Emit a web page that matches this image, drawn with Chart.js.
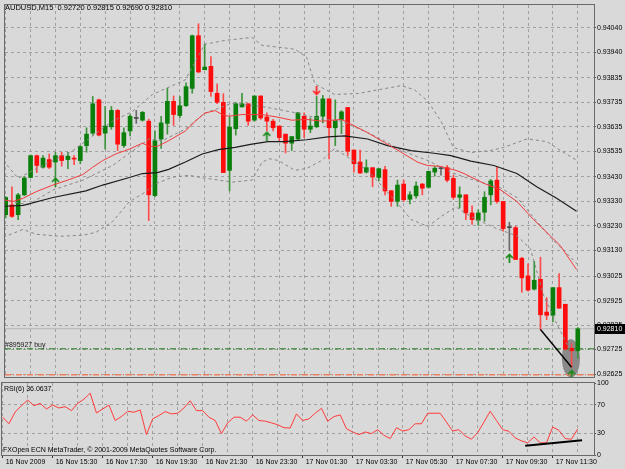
<!DOCTYPE html>
<html>
<head>
<meta charset="utf-8">
<title>AUDUSD,M15</title>
<script src="https://cdn.jsdelivr.net/npm/chart.js@4.4.1/dist/chart.umd.min.js"></script>
<style>
  body { margin: 0; background-color: #d9d9d9; }
  #wrap { position: relative; width: 625px; height: 469px; overflow: hidden; }
  #main { position: absolute; left: 0; top: 0; }
  #rsi { position: absolute; left: 0; top: 380px; }
</style>
</head>
<body>
<div id="wrap">
  <canvas id="main" width="625" height="382"></canvas>
  <canvas id="rsi" width="625" height="89"></canvas>
</div>
<script>
// M15 bars, bar 0 = 16 Nov 2009 13:30
const opens = [0.93276,0.93316,0.93276,0.93357,0.93428,0.93517,0.93470,0.93501,0.93491,0.93517,
  0.93501,0.93505,0.93497,0.93558,0.93609,0.93745,0.93609,0.93635,0.93702,0.93558,
  0.93618,0.93669,0.93662,0.93658,0.93354,0.93585,0.93649,0.93739,0.93681,0.93721,
  0.93792,0.94007,0.93868,0.93882,0.93772,0.93735,0.93457,0.93627,0.93716,0.93729,
  0.93662,0.93761,0.93675,0.93658,0.93638,0.93605,0.93568,0.93585,0.93678,0.93625,
  0.93635,0.93678,0.93749,0.93631,0.93665,0.93714,0.93540,0.93491,0.93450,0.93468,
  0.93428,0.93460,0.93374,0.93330,0.93401,0.93339,0.93353,0.93401,0.93388,0.93450,
  0.93464,0.93468,0.93424,0.93347,0.93357,0.93283,0.93253,0.93286,0.93357,0.93417,
  0.93330,0.93223,0.93223,0.93098,0.93026,0.92972,0.93012,0.92878,0.92865,0.92978,
  0.92910,0.92730,0.92720];
const highs = [0.93350,0.93390,0.93363,0.93430,0.93520,0.93520,0.93517,0.93524,0.93531,0.93531,
  0.93531,0.93517,0.93558,0.93631,0.93759,0.93748,0.93718,0.93718,0.93706,0.93631,
  0.93685,0.93702,0.93698,0.93666,0.93618,0.93678,0.93792,0.93761,0.93759,0.93815,
  0.94010,0.94056,0.93973,0.93922,0.93810,0.93770,0.93678,0.93735,0.93772,0.93729,
  0.93761,0.93761,0.93692,0.93665,0.93638,0.93605,0.93595,0.93694,0.93692,0.93671,
  0.93759,0.93763,0.93749,0.93745,0.93701,0.93714,0.93540,0.93540,0.93500,0.93468,
  0.93464,0.93473,0.93374,0.93417,0.93417,0.93370,0.93410,0.93404,0.93454,0.93473,
  0.93468,0.93477,0.93437,0.93390,0.93357,0.93312,0.93296,0.93370,0.93420,0.93470,
  0.93330,0.93245,0.93229,0.93102,0.93075,0.93085,0.93102,0.92937,0.92978,0.93035,
  0.92910,0.92750,0.92815];
const lows = [0.93263,0.93265,0.93256,0.93354,0.93426,0.93448,0.93466,0.93464,0.93417,0.93474,
  0.93464,0.93480,0.93484,0.93531,0.93601,0.93598,0.93544,0.93625,0.93538,0.93551,
  0.93598,0.93649,0.93658,0.93252,0.93350,0.93547,0.93605,0.93641,0.93671,0.93718,
  0.93772,0.93855,0.93868,0.93759,0.93729,0.93448,0.93373,0.93601,0.93716,0.93641,
  0.93658,0.93665,0.93618,0.93618,0.93578,0.93528,0.93538,0.93582,0.93591,0.93611,
  0.93631,0.93651,0.93504,0.93558,0.93607,0.93517,0.93450,0.93446,0.93446,0.93390,
  0.93414,0.93357,0.93310,0.93310,0.93330,0.93320,0.93343,0.93357,0.93384,0.93433,
  0.93437,0.93410,0.93339,0.93303,0.93256,0.93236,0.93232,0.93249,0.93316,0.93323,
  0.93209,0.93129,0.93093,0.92959,0.92964,0.92968,0.92807,0.92847,0.92838,0.92894,
  0.92723,0.92653,0.92690];
const closes = [0.93346,0.93269,0.93357,0.93426,0.93517,0.93477,0.93507,0.93470,0.93517,0.93497,
  0.93515,0.93503,0.93554,0.93605,0.93729,0.93601,0.93638,0.93702,0.93564,0.93611,
  0.93678,0.93669,0.93694,0.93357,0.93578,0.93651,0.93739,0.93685,0.93721,0.93799,
  0.94007,0.93859,0.93879,0.93779,0.93735,0.93448,0.93634,0.93729,0.93729,0.93658,
  0.93761,0.93671,0.93658,0.93631,0.93591,0.93568,0.93595,0.93692,0.93625,0.93638,
  0.93678,0.93749,0.93631,0.93661,0.93696,0.93535,0.93484,0.93446,0.93468,0.93430,
  0.93464,0.93373,0.93330,0.93397,0.93337,0.93357,0.93393,0.93384,0.93453,0.93466,
  0.93464,0.93417,0.93347,0.93357,0.93283,0.93256,0.93283,0.93347,0.93414,0.93330,
  0.93219,0.93223,0.93093,0.93018,0.92968,0.93008,0.92867,0.92865,0.92978,0.92894,
  0.92727,0.92720,0.92810];

// indicator lines as [bar, price]
const redMa = [[-0.4,0.93337],[1.2,0.93330],[2.8,0.93343],[4.9,0.93370],[7.6,0.93397],[10.3,0.93420],
  [12.4,0.93440],[14,0.93470],[15.6,0.93497],[17.7,0.93524],[19.9,0.93544],[22,0.93568],[23.1,0.93555],
  [24.4,0.93555],[26.2,0.93578],[28.9,0.93618],[30.5,0.93658],[32,0.93691],[33.7,0.93701],[34.8,0.93685],
  [35.8,0.93678],[38,0.93685],[41.2,0.93685],[43.8,0.93674],[46,0.93662],[48.4,0.93665],[50.8,0.93658],
  [54,0.93665],[55.6,0.93645],[58.2,0.93611],[60.9,0.93571],[63.6,0.93531],[66.2,0.93491],[67.8,0.93477],
  [70,0.93473],[72.4,0.93457],[73.7,0.93444],[76.9,0.93404],[79.6,0.93377],[82.2,0.93330],[84.9,0.93256],
  [87.6,0.93189],[89.2,0.93149],[91.8,0.93052]];
const blackMa = [[-0.4,0.93310],[2.8,0.93314],[7.6,0.93346],[12.9,0.93373],[15.6,0.93397],[19.9,0.93428],
  [22,0.93444],[24.4,0.93448],[26.2,0.93461],[28.9,0.93491],[31.6,0.93524],[34.2,0.93542],[36.9,0.93551],
  [39.6,0.93564],[42.2,0.93574],[44.9,0.93574],[48.4,0.93582],[51.8,0.93594],[54.5,0.93598],[58.2,0.93585],
  [61.4,0.93558],[65.2,0.93538],[68.9,0.93527],[71.6,0.93517],[74.8,0.93495],[78.5,0.93477],[82.2,0.93444],
  [85.4,0.93390],[88.6,0.93343],[91.8,0.93290]];
const upperBand = [[-0.4,0.93497],[2,0.93425],[4.4,0.93457],[7.6,0.93497],[10.8,0.93538],[14,0.93598],
  [17.2,0.93658],[20.4,0.93698],[23.6,0.93767],[28.9,0.93827],[32,0.93972],[35.3,0.93988],[39.6,0.94000],
  [41.2,0.93968],[43.9,0.93960],[46.5,0.93952],[48.4,0.93919],[49.7,0.93811],[52.9,0.93767],[56.7,0.93771],
  [60.9,0.93791],[63.6,0.93803],[65.7,0.93787],[67.9,0.93739],[70,0.93658],[72,0.93550],[74.8,0.93530],
  [78,0.93538],[80,0.93550],[83.9,0.93586],[87.1,0.93574],[89.2,0.93538],[91.9,0.93497]];
const middleBand = [[-0.4,0.93337],[3.6,0.93316],[7.6,0.93377],[12.4,0.93417],[17.2,0.93477],[23.1,0.93586],
  [25.2,0.93578],[28.9,0.93626],[32,0.93690],[36.4,0.93731],[41.2,0.93718],[47.1,0.93690],[50.8,0.93666],
  [54,0.93658],[58.3,0.93610],[60.9,0.93578],[63.6,0.93538],[67.9,0.93497],[71.6,0.93449],[74.3,0.93425],
  [79.6,0.93385],[82.3,0.93345],[84.9,0.93264],[87.6,0.93184],[91.9,0.93075]];
const lowerBand = [[-0.4,0.93184],[2.8,0.93216],[4.9,0.93196],[8.7,0.93188],[12.4,0.93192],[14.5,0.93204],
  [17.2,0.93248],[19.9,0.93329],[22.5,0.93369],[23.6,0.93397],[26.8,0.93429],[29.5,0.93437],[32,0.93425],
  [34.3,0.93417],[36.4,0.93409],[39.6,0.93417],[41.2,0.93489],[42.3,0.93505],[43.9,0.93497],[46.5,0.93457],
  [48.4,0.93465],[50.8,0.93497],[52.9,0.93546],[58.2,0.93457],[62.5,0.93337],[65.2,0.93256],[67.9,0.93228],
  [70,0.93268],[72.4,0.93308],[74.8,0.93268],[78.5,0.93224],[82.3,0.93188],[84.4,0.93136],[86.5,0.92947],
  [88.7,0.92826],[90.8,0.92721],[91.9,0.92673]];

const rsiValues = [52.5,43.4,59.8,68.5,76.3,68.5,71.7,63.9,69.4,65.3,
  67.1,61.6,71.7,77.6,85.8,58.4,63.9,69.4,47.9,53.4,
  60.7,59.4,62.6,28.3,50.2,54.8,60.3,57.1,58.0,65.3,
  75.3,61.6,61.6,52.5,47.9,29.7,44.7,52.5,52.5,47.0,
  55.7,47.9,47.0,44.7,42.0,37.9,37.4,57.1,47.9,50.2,
  58.0,64.8,47.0,53.4,55.7,36.5,32.0,28.3,32.0,29.7,
  35.2,27.4,22.8,37.9,33.3,35.2,43.4,43.4,58.0,58.0,
  58.0,45.7,33.3,35.2,26.5,21.9,31.1,45.7,60.7,47.9,
  35.2,32.9,23.7,19.6,16.9,25.1,16.9,16.9,38.8,34.2,
  22.8,21.9,36.06];

// objects on the chart
const upArrows = [[8,0.93410],[42,0.93598],[81,0.93099],[91,0.92624]];
const downArrows = [[50,0.93782]];
const trendPrice = [[86,0.92807],[91,0.92653]];
const trendRsi = [[83.6,13],[92.7,20.5]];
const ellipseCenter = [90.9,0.92689];
const ellipseRadius = [1.45,0.00078];
const bidPrice = 0.92810;
const orderPrice = 0.92728;
const stopPrice = 0.92622;

const priceTicks = [0.94040,0.93940,0.93835,0.93735,0.93635,0.93535,0.93430,0.93330,0.93230,
  0.93130,0.93025,0.92925,0.92825,0.92725,0.92625];
const rsiTicks = [100,70,30,0];
const timeTickBars = [0,8,16,24,32,40,48,56,64,72,80,88];
const timeLabels = ['16 Nov 2009','16 Nov 15:30','16 Nov 17:30','16 Nov 19:30','16 Nov 21:30',
  '16 Nov 23:30','17 Nov 01:30','17 Nov 03:30','17 Nov 05:30','17 Nov 07:30','17 Nov 09:30','17 Nov 11:30'];

const X_MIN = -0.112, X_MAX = 94.608;
const FONT = '"Liberation Sans", Arial, sans-serif';
const gridColor = '#a0a0a0';
const frameColor = '#6a6a6a';

Chart.defaults.font.family = FONT;
Chart.defaults.font.size = 7;
Chart.defaults.color = '#000';

function toXY(pairs) {
  return pairs.map(p => ({x: p[0], y: p[1]}));
}

function candleColor(i, up, down, flat) {
  if (closes[i] > opens[i]) return up;
  if (closes[i] < opens[i]) return down;
  return flat;
}

function arrowImage(color, up) {
  const c = document.createElement('canvas');
  c.width = 9; c.height = 10;
  const g = c.getContext('2d');
  g.strokeStyle = color;
  g.lineWidth = 1.7;
  g.beginPath();
  if (up) {
    g.moveTo(4.5, 1.5); g.lineTo(4.5, 10);
    g.moveTo(1, 5); g.lineTo(4.5, 1.5); g.lineTo(8, 5);
  } else {
    g.moveTo(4.5, 0); g.lineTo(4.5, 8.5);
    g.moveTo(1, 5); g.lineTo(4.5, 8.5); g.lineTo(8, 5);
  }
  g.stroke();
  return c;
}

const gridBars = [];
for (let k = 0; k <= 92; k += 4) gridBars.push(k);

function flatLine(price) {
  return [{x: X_MIN, y: price}, {x: X_MAX, y: price}];
}

function lineSet(data, color, width, dash, order) {
  return {type: 'line', data: data, borderColor: color, borderWidth: width, borderDash: dash || [],
    pointRadius: 0, fill: false, tension: 0, order: order};
}

// frame, texts and the ellipse
const mainDecor = {
  id: 'mainDecor',
  beforeDatasetsDraw(chart) {
    const {ctx, scales: {x, y}} = chart;
    const cx = x.getPixelForValue(ellipseCenter[0]);
    const cy = y.getPixelForValue(ellipseCenter[1]);
    const rx = x.getPixelForValue(ellipseCenter[0] + ellipseRadius[0]) - cx;
    const ry = cy - y.getPixelForValue(ellipseCenter[1] + ellipseRadius[1]);
    ctx.save();
    ctx.fillStyle = '#8a8a8a';
    ctx.beginPath();
    ctx.ellipse(cx, cy, rx, ry, 0, 0, Math.PI * 2);
    ctx.fill();
    ctx.restore();
  },
  afterDraw(chart) {
    const {ctx, chartArea: a, scales: {y}} = chart;
    ctx.save();
    ctx.strokeStyle = frameColor;
    ctx.lineWidth = 1;
    ctx.strokeRect(a.left - 0.5, a.top - 0.5, a.right - a.left + 1, a.bottom - a.top + 1);
    ctx.fillStyle = '#000';
    ctx.textBaseline = 'middle';
    ctx.font = '7.5px ' + FONT;
    ctx.fillText('AUDUSD,M15  0.92720 0.92815 0.92690 0.92810', 5, 8);
    ctx.font = '7px ' + FONT;
    ctx.fillStyle = '#202020';
    ctx.fillText('#895927 buy', 5, y.getPixelForValue(orderPrice) - 4);
    // bid price box
    const by = Math.round(y.getPixelForValue(bidPrice));
    ctx.fillStyle = '#000';
    ctx.fillRect(a.right + 1, by - 5, 625 - a.right - 1, 10);
    ctx.fillStyle = '#fff';
    ctx.fillText(bidPrice.toFixed(5), a.right + 3, by);
    ctx.restore();
  }
};

const rsiDecor = {
  id: 'rsiDecor',
  afterDraw(chart) {
    const {ctx, chartArea: a} = chart;
    ctx.save();
    ctx.strokeStyle = frameColor;
    ctx.lineWidth = 1;
    ctx.strokeRect(a.left - 0.5, a.top - 0.5, a.right - a.left + 1, a.bottom - a.top + 1);
    ctx.fillStyle = '#000';
    ctx.textBaseline = 'middle';
    ctx.font = '7px ' + FONT;
    ctx.fillText('RSI(6) 36.0637', 4, a.top + 6);
    ctx.fillText('FXOpen ECN MetaTrader, \u00a9 2001-2009 MetaQuotes Software Corp.', 3, a.bottom - 5);
    ctx.restore();
  }
};

const bodyData = opens.map((o, i) => ({x: i, y: [o, closes[i]]}));
const wickData = lows.map((l, i) => ({x: i, y: [l, highs[i]]}));

new Chart(document.getElementById('main'), {
  type: 'bar',
  data: {
    datasets: [
      lineSet(toXY(redMa), '#f23a3a', 1, null, 0),
      lineSet(toXY(blackMa), '#1c1c1c', 1.2, null, 0),
      lineSet(toXY(upperBand), '#858585', 1, [3, 3], 1),
      lineSet(toXY(middleBand), '#858585', 1, [3, 3], 1),
      lineSet(toXY(lowerBand), '#858585', 1, [3, 3], 1),
      lineSet(toXY(trendPrice), '#000', 1.4, null, 0),
      lineSet(flatLine(bidPrice), '#b4b4b4', 1, null, 10),
      lineSet(flatLine(orderPrice), '#1d7a1d', 1, [6, 2, 1, 2], 10),
      lineSet(flatLine(stopPrice), '#ee8060', 1.4, [6, 2, 1, 2], 10),
      {type: 'scatter', data: toXY(upArrows), pointStyle: arrowImage('#1a8a1a', true), order: 0},
      {type: 'scatter', data: toXY(downArrows), pointStyle: arrowImage('#ff2020', false), order: 0},
      {type: 'bar', data: bodyData, grouped: false, barThickness: 4, minBarLength: 1, borderWidth: 0,
        backgroundColor: opens.map((o, i) => candleColor(i, '#0b7f0b', '#ff0c0c', '#4a4a4a')), order: 2},
      {type: 'bar', data: wickData, grouped: false, barThickness: 1, borderWidth: 0,
        backgroundColor: opens.map((o, i) => candleColor(i, '#3d943d', '#ff4a4a', '#6a6a6a')), order: 3}
    ]
  },
  options: {
    responsive: false,
    animation: false,
    events: [],
    layout: {padding: {left: 2, top: 2, bottom: 2, right: 0}},
    plugins: {legend: {display: false}, tooltip: {enabled: false}},
    scales: {
      x: {
        type: 'linear', min: X_MIN, max: X_MAX, offset: false,
        grid: {color: gridColor, drawTicks: false, offset: false},
        border: {display: false, dash: [3, 3]},
        ticks: {display: false},
        afterBuildTicks: s => { s.ticks = gridBars.map(v => ({value: v})); },
        afterFit: s => { s.height = 0; s.paddingLeft = 0; s.paddingRight = 0; }
      },
      y: {
        type: 'linear', position: 'right', min: 0.926129, max: 0.941325,
        grid: {color: gridColor, tickColor: '#555', tickLength: 2},
        border: {display: false, dash: [3, 3]},
        ticks: {padding: 1, callback: v => v.toFixed(5), font: {size: 7}},
        afterBuildTicks: s => { s.ticks = priceTicks.map(v => ({value: v})); },
        afterFit: s => { s.width = 31; s.paddingTop = 0; s.paddingBottom = 0; }
      }
    }
  },
  plugins: [mainDecor]
});

new Chart(document.getElementById('rsi'), {
  type: 'line',
  data: {
    datasets: [
      lineSet(rsiValues.map((v, i) => ({x: i, y: v})), '#ff3a3a', 1, null, 1),
      lineSet(toXY(trendRsi), '#000', 2, null, 0)
    ]
  },
  options: {
    responsive: false,
    animation: false,
    events: [],
    layout: {padding: {left: 2, top: 3, bottom: 0, right: 0}},
    plugins: {legend: {display: false}, tooltip: {enabled: false}},
    scales: {
      x: {
        type: 'linear', min: X_MIN, max: X_MAX,
        grid: {color: gridColor, tickLength: 3,
          tickColor: c => timeTickBars.includes(c.tick.value) ? '#333' : 'rgba(0,0,0,0)'},
        border: {display: false, dash: [3, 3]},
        ticks: {autoSkip: false, maxRotation: 0, minRotation: 0, align: 'start', padding: 0, labelOffset: 3,
          callback: v => { const j = timeTickBars.indexOf(v); return j >= 0 ? timeLabels[j] : ''; }},
        afterBuildTicks: s => { s.ticks = gridBars.map(v => ({value: v})); },
        afterFit: s => { s.height = 14; s.paddingLeft = 0; s.paddingRight = 0; }
      },
      y: {
        type: 'linear', position: 'right', min: 0, max: 100,
        grid: {color: c => (c.tick.value === 30 || c.tick.value === 70) ? gridColor : 'rgba(0,0,0,0)',
          tickColor: '#555', tickLength: 2},
        border: {display: false, dash: [3, 3]},
        ticks: {padding: 1, font: {size: 7}},
        afterBuildTicks: s => { s.ticks = rsiTicks.map(v => ({value: v})); },
        afterFit: s => { s.width = 31; s.paddingTop = 0; s.paddingBottom = 0; }
      }
    }
  },
  plugins: [rsiDecor]
});
</script>
</body>
</html>
